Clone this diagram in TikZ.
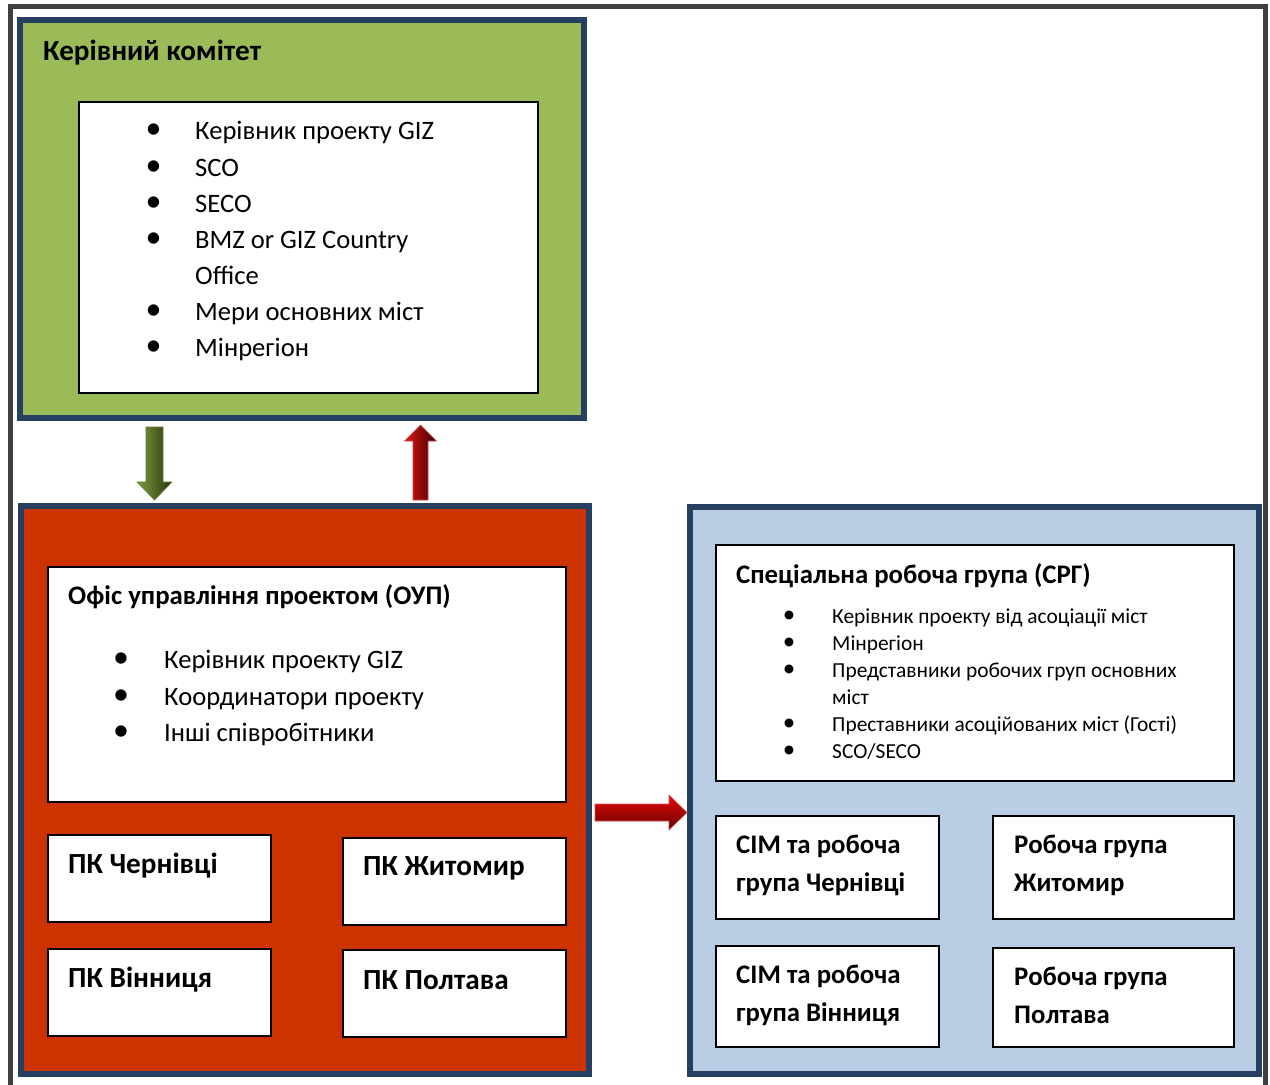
\documentclass[tikz,border=0pt]{standalone}
\usepackage{fontspec}
\setmainfont{Carlito}
\usetikzlibrary{calc}
\definecolor{navy}{RGB}{37,64,97}
\definecolor{gfill}{RGB}{155,187,89}
\definecolor{rfill}{RGB}{204,51,0}
\definecolor{bfill}{RGB}{185,205,229}
\definecolor{frame}{RGB}{64,64,64}
\newcommand\blockarrow[6]{%
  \coordinate (ba-hb) at ($(#2)!#5!(#1)$);
  \path[#6] ($(#1)!#3!90:(#2)$) -- ($(ba-hb)!#3!90:(#2)$) -- ($(ba-hb)!#4!90:(#2)$) -- (#2)
    -- ($(ba-hb)!#4!-90:(#2)$) -- ($(ba-hb)!#3!-90:(#2)$) -- ($(#1)!#3!-90:(#2)$) -- cycle;
}
\tikzset{
  bigframe/.style={draw=navy, line width=6pt, anchor=north west, inner sep=0pt, outer sep=0pt},
  wbox/.style={draw=black, fill=white, line width=1.2pt, anchor=north west, inner sep=0pt, outer sep=0pt},
  txt/.style={anchor=base west, inner sep=0pt, font=\fontsize{26.6}{36}\selectfont},
  stxt/.style={anchor=base west, inner sep=0pt, font=\fontsize{21.4}{27}\selectfont},
  btxt/.style={anchor=base west, inner sep=0pt, font=\fontsize{26.8}{38}\selectfont\bfseries},
  pktxt/.style={anchor=base west, inner sep=0pt, font=\fontsize{29.2}{38}\selectfont\bfseries},
  bul/.style={anchor=center, inner sep=0pt, font=\fontsize{32}{32}\selectfont},
  sbul/.style={anchor=center, inner sep=0pt, font=\fontsize{25}{25}\selectfont},
}
\begin{document}
\begin{tikzpicture}[x=1pt,y=-1pt]
\useasboundingbox (0,0) rectangle (1270,1085);
\fill[white] (0,0) rectangle (1270,1085);
% outer frame
\draw[frame, line width=5pt] (10.5,1090) -- (10.5,6.5) -- (1265.5,6.5) -- (1265.5,1090);

% big frames
\node[bigframe, fill=gfill, minimum width=564, minimum height=398] (green) at (20,20) {};
\node[bigframe, fill=rfill, minimum width=568, minimum height=568] (red) at (21,506) {};
\node[bigframe, fill=bfill, minimum width=569, minimum height=567] (blue) at (690,507) {};

% green content
\node[wbox, minimum width=459, minimum height=291] (gin) at (79,102) {};
\node[pktxt] (gtitle) at (43,60) {Керівний комітет};
\foreach \y/\t/\n in {139/Керівник проекту GIZ/g1, 176/SCO/g2, 212/SECO/g3, 248/BMZ or GIZ Country/g4, 320/Мери основних міст/g6, 356/Мінрегіон/g7}{
  \node[bul] (\n b) at (153.5,\y-8) {•};
  \node[txt] (\n) at (195,\y) {\t};
}
\node[txt] (g5) at (195,284) {Office};

% red content
\node[wbox, minimum width=518, minimum height=235] (rin) at (48,567) {};
\node[btxt] (rtitle) at (68,604) {Офіс управління проектом (ОУП)};
\foreach \y/\t/\n in {668/Керівник проекту GIZ/r1, 705/Координатори проекту/r2, 741/Інші співробітники/r3}{
  \node[bul] (\n b) at (121,\y-8) {•};
  \node[txt] (\n) at (164,\y) {\t};
}
\node[wbox, minimum width=223, minimum height=87] (pk1) at (48,835) {};
\node[wbox, minimum width=223, minimum height=87] (pk2) at (343,838) {};
\node[wbox, minimum width=223, minimum height=87] (pk3) at (48,949) {};
\node[wbox, minimum width=223, minimum height=87] (pk4) at (343,950) {};
\node[pktxt] (pk1t) at (68,873) {ПК Чернівці};
\node[pktxt] (pk2t) at (363,875) {ПК Житомир};
\node[pktxt] (pk3t) at (68,987) {ПК Вінниця};
\node[pktxt] (pk4t) at (363,989) {ПК Полтава};

% blue content
\node[wbox, minimum width=518, minimum height=236] (bin) at (716,545) {};
\node[btxt] (btitle) at (736,583) {Спеціальна робоча група (СРГ)};
\foreach \y/\t/\n in {623/Керівник проекту від асоціації міст/s1, 650/Мінрегіон/s2, 677/Представники робочих груп основних/s3, 731/Преставники асоційованих міст (Гості)/s5, 758/{SCO/SECO}/s6}{
  \node[sbul] (\n b) at (789,\y-6.5) {•};
  \node[stxt] (\n) at (832,\y) {\t};
}
\node[stxt] (s4) at (832,704) {міст};
\node[wbox, minimum width=223, minimum height=103] (w1) at (716,816) {};
\node[wbox, minimum width=241, minimum height=103] (w2) at (993,816) {};
\node[wbox, minimum width=223, minimum height=101] (w3) at (716,946) {};
\node[wbox, minimum width=241, minimum height=99] (w4) at (993,948) {};
\node[btxt] (w1a) at (736,853) {СІМ та робоча};
\node[btxt] (w1b) at (736,891) {група Чернівці};
\node[btxt] (w2a) at (1014,853) {Робоча група};
\node[btxt] (w2b) at (1014,891) {Житомир};
\node[btxt] (w3a) at (736,983) {СІМ та робоча};
\node[btxt] (w3b) at (736,1021) {група Вінниця};
\node[btxt] (w4a) at (1014,985) {Робоча група};
\node[btxt] (w4b) at (1014,1023) {Полтава};

% arrows
\coordinate (ga) at (154.5,427);
\coordinate (gb) at (154.5,500);
\blockarrow{ga}{gb}{8.5pt}{17.5pt}{18pt}{left color={rgb,255:red,125;green,155;blue,60}, right color={rgb,255:red,40;green,55;blue,15}, draw={rgb,255:red,95;green,120;blue,45}, line width=0.6pt}
\coordinate (ra) at (420.5,500);
\coordinate (rb) at (420.5,425);
\blockarrow{ra}{rb}{7.5pt}{16pt}{16pt}{left color={rgb,255:red,225;green,20;blue,20}, right color={rgb,255:red,60;green,0;blue,0}, draw={rgb,255:red,210;green,70;blue,70}, line width=0.6pt}
\coordinate (xa) at (595,812.5);
\coordinate (xb) at (687,812.5);
\blockarrow{xa}{xb}{8.5pt}{17.5pt}{18pt}{top color={rgb,255:red,230;green,10;blue,10}, bottom color={rgb,255:red,100;green,0;blue,0}, draw={rgb,255:red,215;green,80;blue,80}, line width=0.6pt}
\end{tikzpicture}
\end{document}
